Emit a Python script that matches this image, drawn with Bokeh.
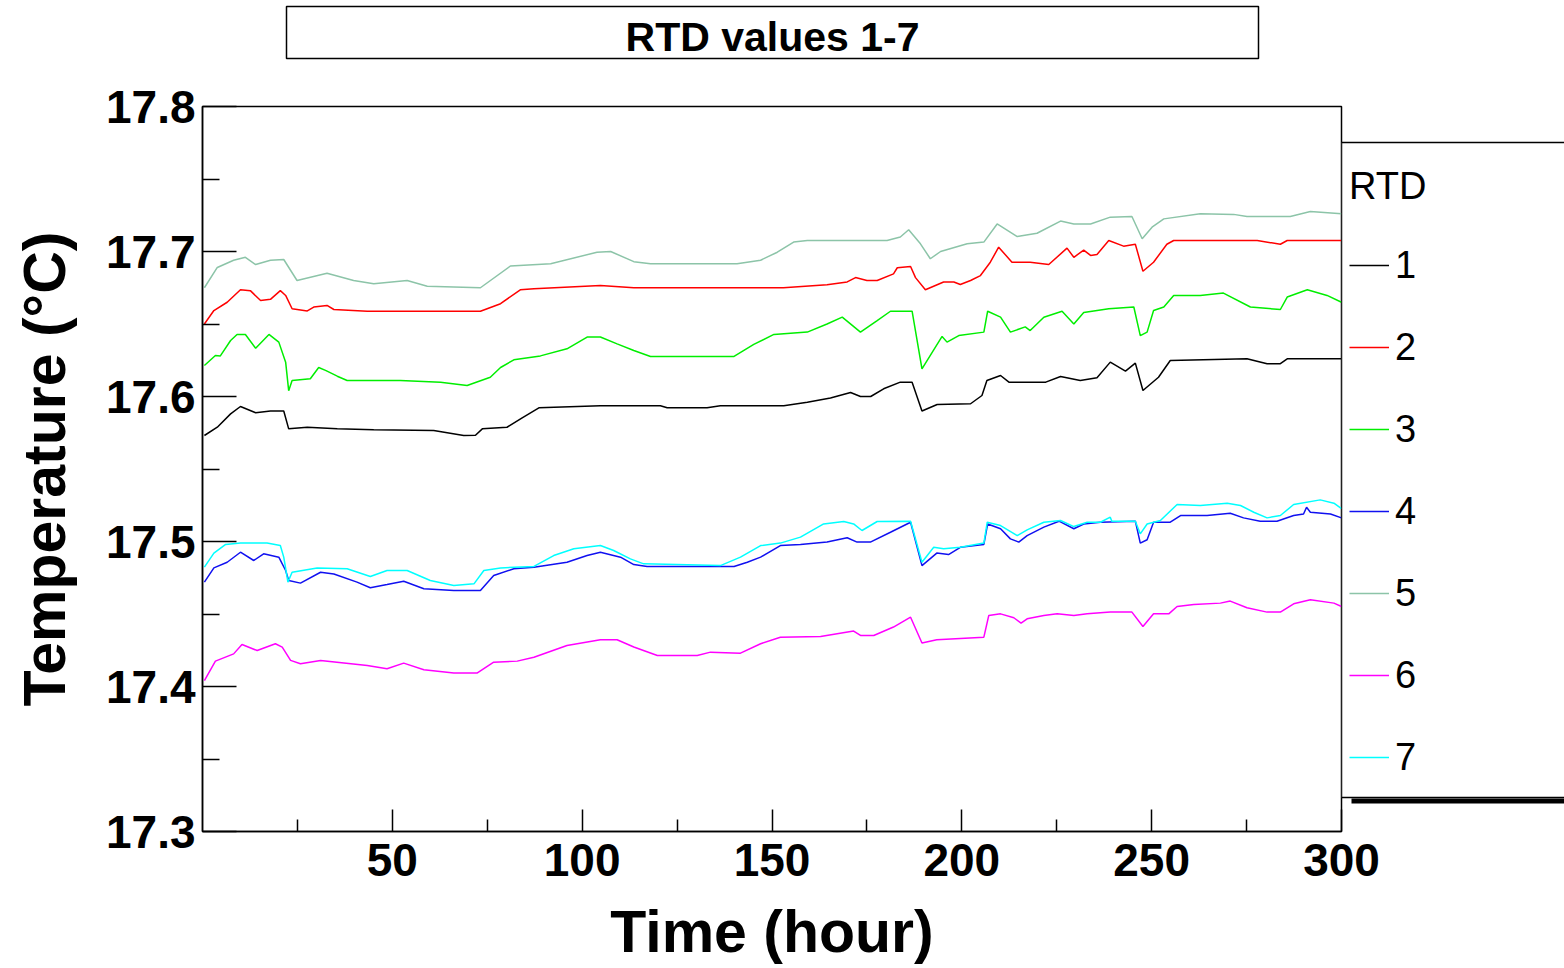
from bokeh.plotting import figure
from bokeh.layouts import column, row
from bokeh.models import (FixedTicker, PrintfTickFormatter, Legend, LegendItem,
                          BoxAnnotation, Label, Range1d)
from bokeh.embed import file_html
from bokeh.resources import INLINE

# ---------------------------------------------------------------- data
# Time (hour) / temperature (degC) samples for the seven RTD sensors
t1 = [0.5, 3.9, 7.4, 10.0, 14.0, 17.9, 21.4, 22.7, 27.6, 35.5, 45.1, 60.9, 68.8, 71.9, 73.7, 80.2,
      84.2, 88.6, 104.8, 120.6, 122.4, 132.9, 136.4, 153.1, 159.3, 165.4, 170.7, 173.3, 176.0,
      179.4, 183.8, 186.9, 189.5, 193.5, 202.3, 205.3, 206.6, 210.2, 212.4, 222.1, 226.0, 231.2,
      235.6, 239.1, 243.1, 245.7, 247.7, 251.8, 254.9, 275.1, 280.4, 283.9, 285.7, 300]
rtd1 = [17.5731, 17.5788, 17.588, 17.5931, 17.5888, 17.590, 17.590, 17.5777, 17.5788, 17.5777,
        17.577, 17.5766, 17.5731, 17.5733, 17.5777, 17.5788, 17.5853, 17.5922, 17.5936, 17.5936,
        17.5922, 17.5922, 17.5936, 17.5936, 17.596, 17.599, 17.6028, 17.600, 17.600, 17.6053,
        17.6099, 17.6099, 17.590, 17.5945, 17.595, 17.6007, 17.611, 17.6145, 17.6099, 17.6099,
        17.6138, 17.611, 17.613, 17.6237, 17.6175, 17.623, 17.6041, 17.6133, 17.6248, 17.626,
        17.6226, 17.6226, 17.626, 17.626]

t2 = [0.5, 3.0, 6.5, 10.0, 12.6, 15.3, 17.9, 20.5, 21.9, 23.6, 27.6, 29.3, 32.8, 34.6, 43.4, 73.2,
      78.5, 83.7, 87.3, 104.8, 113.6, 153.0, 164.5, 169.8, 172.0, 175.0, 177.7, 182.0, 183.0,
      186.5, 187.8, 190.4, 195.2, 197.9, 199.6, 202.3, 204.9, 207.5, 209.7, 213.2, 218.0, 222.9,
      227.7, 229.5, 232.1, 233.9, 235.6, 238.7, 242.6, 245.7, 247.7, 250.5, 254.0, 255.8, 277.8,
      283.9, 285.7, 300]
rtd2 = [17.650, 17.6593, 17.665, 17.6736, 17.673, 17.6662, 17.667, 17.673, 17.6697, 17.6605,
        17.659, 17.6617, 17.6628, 17.660, 17.6588, 17.6588, 17.664, 17.6736, 17.6743, 17.6766,
        17.675, 17.675, 17.677, 17.679, 17.682, 17.680, 17.680, 17.6846, 17.6888, 17.6897,
        17.682, 17.6736, 17.679, 17.679, 17.6772, 17.680, 17.6834, 17.6926, 17.703, 17.6926,
        17.6926, 17.691, 17.7023, 17.696, 17.701, 17.6973, 17.698, 17.7076, 17.7037, 17.705,
        17.6864, 17.6926, 17.705, 17.7076, 17.7076, 17.705, 17.7076, 17.7076]

t3 = [0.5, 3.4, 4.7, 7.4, 9.1, 11.3, 14.0, 17.5, 20.1, 21.9, 22.7, 23.6, 28.4, 30.6, 32.4, 35.5,
      38.1, 52.1, 62.7, 69.7, 75.8, 78.5, 82.0, 89.0, 96.0, 101.3, 104.8, 109.2, 113.6, 118.0,
      140.0, 145.2, 150.5, 159.3, 164.5, 168.5, 173.3, 177.7, 181.2, 186.9, 189.5, 191.7, 194.8,
      196.1, 199.2, 205.8, 206.8, 210.2, 212.8, 216.7, 218.0, 221.6, 226.4, 229.5, 232.1, 238.7,
      245.3, 247.0, 248.8, 250.5, 253.2, 255.8, 262.8, 268.9, 276.0, 283.9, 285.7, 291.0, 296.2,
      300]
rtd3 = [17.6214, 17.6283, 17.628, 17.6386, 17.6428, 17.6428, 17.6333, 17.6428, 17.6375, 17.6237,
        17.604, 17.611, 17.6122, 17.620, 17.618, 17.614, 17.611, 17.611, 17.6099, 17.6076,
        17.6133, 17.620, 17.6253, 17.628, 17.6329, 17.641, 17.641, 17.6363, 17.6317, 17.6276,
        17.6276, 17.6359, 17.6428, 17.6444, 17.650, 17.6547, 17.6444, 17.6524, 17.6588, 17.6588,
        17.619, 17.6283, 17.6414, 17.6375, 17.642, 17.6444, 17.6588, 17.6547, 17.6444, 17.648,
        17.6455, 17.6547, 17.6588, 17.650, 17.658, 17.6605, 17.6617, 17.642, 17.6444, 17.6593,
        17.6617, 17.6697, 17.6697, 17.6713, 17.6617, 17.660, 17.6686, 17.6736, 17.6697, 17.665]

t4 = [0.5, 3.0, 6.5, 10.0, 13.5, 16.1, 20.1, 21.9, 22.7, 25.8, 31.1, 34.6, 40.7, 44.2, 48.6, 53.0,
      58.3, 66.2, 73.2, 76.7, 82.0, 87.3, 96.0, 101.3, 104.8, 110.1, 113.6, 117.1, 140.0, 143.5,
      147.0, 152.2, 157.5, 164.5, 169.8, 172.4, 175.9, 181.2, 186.5, 189.5, 193.4, 196.5, 199.6,
      205.8, 206.8, 210.2, 212.8, 215.0, 217.2, 221.6, 225.6, 229.5, 232.1, 236.5, 245.7, 247.0,
      248.8, 250.5, 254.9, 257.6, 264.6, 270.7, 274.2, 278.6, 283.0, 287.4, 290.0, 290.8, 291.8,
      297.1, 300]
rtd4 = [17.472, 17.4818, 17.4857, 17.4926, 17.4869, 17.4915, 17.4892, 17.480, 17.4731, 17.4713,
        17.4788, 17.4776, 17.472, 17.4681, 17.4703, 17.4726, 17.4674, 17.4662, 17.4662, 17.4766,
        17.4812, 17.4823, 17.4857, 17.4903, 17.4926, 17.4892, 17.4841, 17.4828, 17.4828, 17.4857,
        17.4892, 17.4972, 17.498, 17.4996, 17.5026, 17.4996, 17.4996, 17.5064, 17.5133, 17.4834,
        17.492, 17.491, 17.496, 17.498, 17.5121, 17.5088, 17.5018, 17.4996, 17.5041, 17.5099,
        17.514, 17.5088, 17.5121, 17.5133, 17.514, 17.4989, 17.5012, 17.5133, 17.5133, 17.5179,
        17.5179, 17.5195, 17.5163, 17.514, 17.514, 17.5179, 17.519, 17.5236, 17.5202, 17.519,
        17.5163]

t5 = [0.5, 3.9, 8.2, 11.3, 14.0, 17.9, 21.4, 24.9, 32.8, 39.8, 45.1, 53.9, 59.2, 73.2, 81.1, 91.7,
      103.9, 107.5, 113.6, 118.0, 140.8, 147.0, 151.4, 155.7, 159.3, 180.3, 183.8, 186.0, 189.1,
      191.7, 194.4, 201.4, 205.8, 209.3, 214.6, 219.8, 226.0, 229.5, 233.9, 239.1, 244.8, 247.5,
      250.1, 253.2, 262.8, 271.6, 275.1, 286.5, 291.8, 300]
rtd5 = [17.675, 17.689, 17.694, 17.696, 17.691, 17.694, 17.6945, 17.680, 17.685, 17.680,
        17.6777, 17.680, 17.676, 17.675, 17.690, 17.6915, 17.6995, 17.700, 17.693, 17.6915,
        17.6915, 17.694, 17.6995, 17.7065, 17.7076, 17.7076, 17.710, 17.715, 17.7053, 17.695,
        17.700, 17.7053, 17.7065, 17.719, 17.7103, 17.7126, 17.721, 17.719, 17.719, 17.7237,
        17.7241, 17.7088, 17.7168, 17.7225, 17.726, 17.7256, 17.7241, 17.7241, 17.7276, 17.726]

t6 = [0.5, 3.4, 8.2, 10.4, 14.4, 19.2, 21.0, 23.2, 25.8, 31.1, 43.4, 48.6, 53.0, 58.3, 66.2, 72.3,
      76.7, 82.9, 87.3, 96.0, 104.8, 109.2, 113.6, 119.8, 130.3, 133.8, 141.7, 147.0, 152.2,
      162.8, 171.5, 173.3, 176.8, 182.0, 186.5, 189.5, 193.4, 205.8, 207.1, 210.2, 213.7, 215.6,
      217.2, 221.6, 225.1, 229.5, 233.0, 239.1, 244.8, 247.7, 250.5, 254.5, 256.7, 261.1, 268.1,
      270.7, 275.1, 280.4, 283.9, 287.4, 291.8, 298.0, 300]
rtd6 = [17.4041, 17.4175, 17.4225, 17.429, 17.4248, 17.4295, 17.4272, 17.418, 17.4157, 17.418,
        17.4145, 17.4122, 17.4161, 17.4116, 17.4093, 17.4093, 17.4168, 17.4175, 17.4202, 17.4283,
        17.4322, 17.4322, 17.4272, 17.4214, 17.4214, 17.4237, 17.423, 17.4295, 17.434, 17.4345,
        17.4382, 17.4352, 17.4352, 17.441, 17.4478, 17.430, 17.4322, 17.434, 17.449, 17.4501,
        17.4474, 17.4437, 17.4467, 17.449, 17.4501, 17.449, 17.4501, 17.4513, 17.4513, 17.4414,
        17.4501, 17.4501, 17.4552, 17.4566, 17.4575, 17.4589, 17.4543, 17.4513, 17.4513, 17.457,
        17.4598, 17.4575, 17.4552]

t7 = [0.5, 3.0, 6.1, 10.0, 17.0, 20.5, 21.4, 22.5, 23.6, 30.2, 38.1, 44.2, 48.6, 53.9, 60.0, 66.2,
      71.5, 74.1, 78.5, 87.3, 92.5, 97.8, 104.8, 108.3, 112.7, 116.2, 136.4, 141.7, 147.0, 152.2,
      157.5, 163.6, 168.9, 171.5, 173.7, 177.7, 186.5, 189.5, 192.6, 195.2, 199.6, 205.8, 206.7,
      210.2, 214.6, 217.2, 221.6, 226.0, 229.5, 233.0, 236.5, 239.1, 239.5, 245.7, 247.0, 248.8,
      252.3, 256.7, 262.8, 269.9, 273.4, 276.9, 280.4, 283.9, 287.4, 294.4, 298.0, 300]
rtd7 = [17.4823, 17.492, 17.498, 17.4989, 17.4989, 17.4972, 17.4892, 17.472, 17.4788, 17.4818,
        17.4812, 17.4759, 17.480, 17.480, 17.4731, 17.4697, 17.4708, 17.480, 17.4818, 17.4828,
        17.4903, 17.495, 17.4972, 17.4938, 17.488, 17.4846, 17.4834, 17.4892, 17.4972, 17.4989,
        17.503, 17.5121, 17.5138, 17.5121, 17.5076, 17.5138, 17.514, 17.4857, 17.496, 17.495,
        17.496, 17.4989, 17.5133, 17.511, 17.5041, 17.508, 17.5133, 17.5145, 17.5103, 17.5133,
        17.5133, 17.5168, 17.514, 17.514, 17.5053, 17.5121, 17.5145, 17.5255, 17.5248, 17.5264,
        17.5248, 17.5202, 17.5163, 17.5179, 17.5255, 17.5287, 17.5264, 17.5226]

series_names = ["1", "2", "3", "4", "5", "6", "7"]
series_colors = ["#000000", "#ff0000", "#00ee00", "#1010f0", "#8cc4a8", "#ff00ff", "#00ffff"]

x_ticks = [50, 100, 150, 200, 250, 300]
x_minor = [25, 75, 125, 175, 225, 275]
y_ticks = [17.3, 17.4, 17.5, 17.6, 17.7, 17.8]
y_minor = [17.35, 17.45, 17.55, 17.65, 17.75]

chart_title = "RTD values 1-7"
legend_title = "RTD"

# ---------------------------------------------------------------- page geometry (px)
FONT = "Liberation Sans"
W, H = 1564, 968
HEAD_H = 60                     # strip holding the boxed title
FRAME_L, FRAME_R, FRAME_T, FRAME_B = 202, 1341, 106, 831
MAIN_W = 1400                   # chart canvas, wide enough for the last tick label
BODY_H = H - HEAD_H
SIDE_W = W - FRAME_R            # legend panel, laid over the chart's right margin
OVERLAP = MAIN_W - FRAME_R


def bare(fig):
    """Strip a helper canvas down to a plain, transparent pixel surface."""
    fig.xaxis.visible = False
    fig.yaxis.visible = False
    fig.xgrid.visible = False
    fig.ygrid.visible = False
    fig.outline_line_color = None
    fig.background_fill_alpha = 0
    fig.border_fill_alpha = 0
    return fig


# ---------------------------------------------------------------- title strip
head = bare(figure(width=W, height=HEAD_H, x_range=Range1d(0, W), y_range=Range1d(HEAD_H, 0),
                   output_backend="svg", toolbar_location=None, title=None, min_border=0))
head.add_layout(BoxAnnotation(left=286, right=1258, top=6, bottom=58, fill_color="white",
                              fill_alpha=1, line_color="black", line_alpha=1, line_width=1.5))
head.add_layout(Label(x=772, y=36, text=chart_title, text_align="center", text_baseline="middle",
                      text_font=FONT, text_font_style="bold", text_font_size="41px",
                      text_color="black"))

# ---------------------------------------------------------------- main chart
p = figure(width=MAIN_W, height=BODY_H, x_range=Range1d(0, 300), y_range=Range1d(17.3, 17.8),
           output_backend="svg", toolbar_location=None, title=None,
           min_border_left=FRAME_L, min_border_right=MAIN_W - FRAME_R,
           min_border_top=FRAME_T - HEAD_H, min_border_bottom=H - FRAME_B,
           x_axis_label="Time (hour)", y_axis_label="Temperature (°C)")

p.background_fill_color = "white"
p.border_fill_color = "white"
p.outline_line_color = "black"
p.outline_line_width = 1.5
p.xgrid.visible = False
p.ygrid.visible = False

xa, ya = p.xaxis[0], p.yaxis[0]
xa.ticker = FixedTicker(ticks=x_ticks, minor_ticks=x_minor)
ya.ticker = FixedTicker(ticks=y_ticks, minor_ticks=y_minor)
xa.formatter = PrintfTickFormatter(format="%d")
ya.formatter = PrintfTickFormatter(format="%.1f")

for ax in (xa, ya):
    ax.axis_line_color = "black"
    ax.axis_line_width = 1.5
    ax.major_tick_line_color = "black"
    ax.major_tick_line_width = 1.5
    ax.minor_tick_line_color = "black"
    ax.minor_tick_line_width = 1.5
    ax.major_tick_out = 0
    ax.minor_tick_out = 0
    ax.major_label_text_font = FONT
    ax.major_label_text_font_style = "bold"
    ax.major_label_text_font_size = "46px"
    ax.major_label_text_color = "black"
    ax.axis_label_text_font = FONT
    ax.axis_label_text_font_style = "bold"
    ax.axis_label_text_font_size = "59px"
    ax.axis_label_text_color = "black"

xa.major_tick_in = 22
xa.minor_tick_in = 12
xa.major_label_standoff = 12
xa.axis_label_standoff = 20

ya.major_tick_in = 34
ya.minor_tick_in = 17
ya.major_label_standoff = 7
ya.axis_label_standoff = 25

series = [(t1, rtd1), (t2, rtd2), (t3, rtd3), (t4, rtd4), (t5, rtd5), (t6, rtd6), (t7, rtd7)]
for (t, v), color in zip(series, series_colors):
    p.line(t, v, line_color=color, line_width=1.5)

# ---------------------------------------------------------------- legend panel
# Same vertical borders as the chart, so its data units are page pixels.
side = bare(figure(width=SIDE_W, height=BODY_H, x_range=Range1d(FRAME_R, W),
                   y_range=Range1d(FRAME_B, FRAME_T), output_backend="svg",
                   toolbar_location=None, title=None,
                   min_border_left=0, min_border_right=0,
                   min_border_top=FRAME_T - HEAD_H, min_border_bottom=H - FRAME_B))
side.margin = (0, 0, 0, -OVERLAP)

# legend frame: open to the left (the chart border closes it), dark drop edge below
side.add_layout(BoxAnnotation(left=1351, right=W + 40, top=798, bottom=803,
                              fill_color="black", fill_alpha=1, line_color=None))
side.add_layout(BoxAnnotation(left=FRAME_R, right=W + 40, top=142, bottom=797,
                              fill_color="white", fill_alpha=1, line_color="black",
                              line_alpha=1, line_width=1.5))

nan = float("nan")
items = []
for name, color in zip(series_names, series_colors):
    r = side.line(x=[nan], y=[nan], line_color=color, line_width=1.5)
    items.append(LegendItem(label=name, renderers=[r]))

legend = Legend(items=items, location=(8, FRAME_B - 779), title=legend_title)
legend.title_text_font = FONT
legend.title_text_font_size = "38px"
legend.title_text_font_style = "normal"
legend.title_text_color = "black"
legend.title_standoff = 35
legend.label_text_font = FONT
legend.label_text_font_size = "38px"
legend.label_text_color = "black"
legend.glyph_width = 40
legend.glyph_height = 44
legend.label_height = 44
legend.label_standoff = 6
legend.spacing = 38
legend.padding = 8
legend.margin = 0
legend.border_line_color = None
legend.background_fill_alpha = 0
side.add_layout(legend)

page = column(head, row(p, side, spacing=0), spacing=0)
open("out.html", "w").write(file_html(page, INLINE))
